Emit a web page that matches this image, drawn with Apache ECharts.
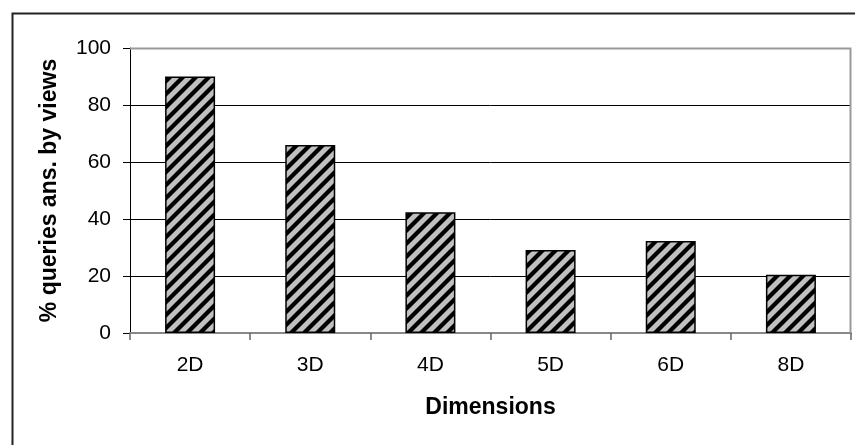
<!DOCTYPE html>
<html>
<head>
<meta charset="utf-8">
<script src="https://cdn.jsdelivr.net/npm/echarts@6/dist/echarts.min.js"></script>
<style>
  html, body { margin: 0; padding: 0; background: #fff; }
  #chart { width: 855px; height: 445px; }
</style>
</head>
<body>
<div id="chart"></div>
<script>
// Share of queries answered by materialized views, per dimensionality
const dimensions = ['2D', '3D', '4D', '5D', '6D', '8D'];
const answeredPct = [90, 66, 42.4, 29.1, 32.3, 20.4];
const yTicks = [0, 20, 40, 60, 80, 100];

// Grey fill with black "/" hatching for the bars (seamless tile)
function hatchPattern() {
  const size = 13;
  const c = document.createElement('canvas');
  c.width = size; c.height = size;
  const ctx = c.getContext('2d');
  ctx.fillStyle = '#c0c0c0';
  ctx.fillRect(0, 0, size, size);
  ctx.strokeStyle = '#000';
  ctx.lineWidth = 4.2;
  ctx.lineCap = 'square';
  // lines x + y = c, extended well past the tile so no ends show
  for (const cst of [0, size, 2 * size]) {
    ctx.beginPath();
    ctx.moveTo(-2 * size, cst + 2 * size);
    ctx.lineTo(3 * size, cst - 3 * size);
    ctx.stroke();
  }
  return c;
}

const chart = echarts.init(document.getElementById('chart'), null, { renderer: 'canvas' });
const font = '"Liberation Sans", Arial, sans-serif';

chart.setOption({
  animation: false,
  backgroundColor: '#fff',
  grid: { left: 130, right: 4, top: 48, bottom: 112, show: false },
  graphic: [
    // outer chart frame
    { type: 'rect', left: 10, top: 11, shape: { x: 0, y: 0, width: 900, height: 500 },
      style: { fill: 'none', stroke: '#222', lineWidth: 2 }, z: 0 },
    // plot area border (top + right)
    { type: 'polyline', shape: { points: [[130, 48.5], [850.5, 48.5], [850.5, 333]] },
      style: { fill: 'none', stroke: '#999', lineWidth: 2 }, z: 1 }
  ],
  xAxis: {
    type: 'category',
    data: dimensions,
    name: 'Dimensions',
    nameLocation: 'middle',
    nameGap: 63,
    nameTextStyle: { fontFamily: font, fontSize: 23, fontWeight: 'bold', color: '#000' },
    axisLine: { lineStyle: { color: '#888', width: 2 } },
    axisTick: { show: true, alignWithLabel: false, length: 7, lineStyle: { color: '#666', width: 1.5 } },
    axisLabel: { fontFamily: font, fontSize: 21, color: '#000', margin: 22 },
    splitLine: { show: false }
  },
  yAxis: {
    type: 'value',
    min: yTicks[0],
    max: yTicks[yTicks.length - 1],
    interval: yTicks[1] - yTicks[0],
    name: '% queries ans. by views',
    nameLocation: 'middle',
    nameGap: 69,
    nameTextStyle: { fontFamily: font, fontSize: 23, fontWeight: 'bold', color: '#000' },
    axisLine: { show: true, lineStyle: { color: '#000', width: 1 } },
    axisTick: { show: true, length: 7, lineStyle: { color: '#000', width: 1 } },
    axisLabel: { fontFamily: font, fontSize: 21, color: '#000', margin: 19,
      formatter: v => yTicks.includes(v) ? String(v) : '' },
    splitLine: { show: true, lineStyle: { color: '#000', width: 1 } }
  },
  series: [{
    type: 'bar',
    data: answeredPct,
    barWidth: 50,
    z: 3,
    itemStyle: {
      color: { image: hatchPattern(), repeat: 'repeat' },
      borderColor: '#000',
      borderWidth: 1.5
    }
  }]
});
</script>
</body>
</html>
